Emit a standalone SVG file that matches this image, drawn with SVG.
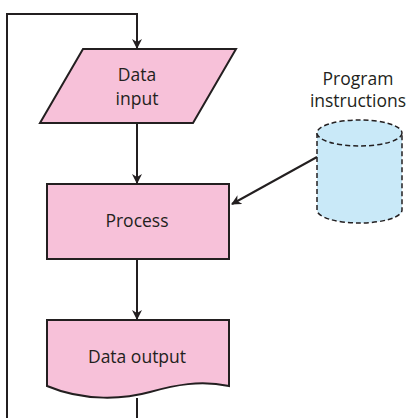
<svg xmlns="http://www.w3.org/2000/svg" width="409" height="418" viewBox="0 0 409 418">
<defs>
<style>
.node{fill:#f7c1d9;stroke:#231f20;stroke-width:2}
.store{fill:#c9e9f8;stroke:#231f20;stroke-width:1.5;stroke-dasharray:5 3}
.edge{fill:none;stroke:#231f20;stroke-width:2}
text{font-family:"Open Sans","Liberation Sans",sans-serif;font-size:17.5px;fill:#231f20;text-anchor:middle}
</style>
<marker id="ah" viewBox="0 0 10 10" refX="9" refY="5" markerWidth="5" markerHeight="5" orient="auto" markerUnits="strokeWidth">
<path d="M0,0 L10,5 L0,10 L3,5 z" fill="#231f20"/>
</marker>
</defs>
<rect width="409" height="418" fill="#fff"/>
<g id="connectors">
<path class="edge" d="M7,418 V14 H137 V48" marker-end="url(#ah)"/>
<path class="edge" d="M137,124 V183" marker-end="url(#ah)"/>
<path class="edge" d="M137,260 V319" marker-end="url(#ah)"/>
<path class="edge" d="M137,398 V418"/>
<path class="edge" d="M317,157 L232,204" marker-end="url(#ah)"/>
</g>
<g id="data-input">
<polygon class="node" points="83,49 236,49 193,123 40,123"/>
<text x="137" y="81">Data</text>
<text x="137" y="105">input</text>
</g>
<g id="process">
<rect class="node" x="47" y="184" width="182" height="75"/>
<text x="137" y="227">Process</text>
</g>
<g id="data-output">
<path class="node" d="M47,320 H229 V386 C200,380 175,385 150,392 C125,399 85,402 47,386 Z"/>
<text x="137" y="363">Data output</text>
</g>
<g id="program-instructions">
<path class="store" d="M317,133 V210 A42.5,13 0 0 0 402,210 V133"/>
<ellipse class="store" cx="359.5" cy="133" rx="42.5" ry="13"/>
<text x="358" y="85">Program</text>
<text x="358" y="107">instructions</text>
</g>
</svg>
